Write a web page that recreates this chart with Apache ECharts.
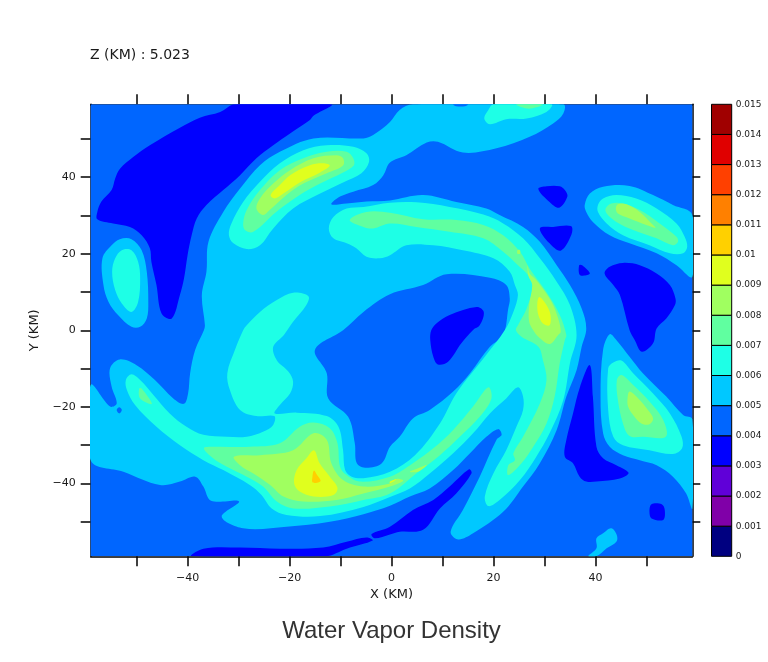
<!DOCTYPE html>
<html>
<head>
<meta charset="utf-8">
<style>html,body{margin:0;padding:0;background:#fff}#c{width:768px;height:662px}</style>
<script src="https://cdn.jsdelivr.net/npm/echarts@6/dist/echarts.min.js"></script>
</head>
<body>
<div id="c"></div>
<script>
// Colour levels: water vapour density bands, each 0.001 wide
const levels = [0,0.001,0.002,0.003,0.004,0.005,0.006,0.007,0.008,0.009,0.01,0.011,0.012,0.013,0.014,0.015];
const bandColors = ['#000080','#8000a8','#6000d8','#0000ff','#0066ff','#00c8ff','#1effe6','#60ffa0','#a0ff60','#e0ff1e','#ffd000','#ff8000','#ff4000','#e00000','#a00000'];
const xTicks = [-50,-40,-30,-20,-10,0,10,20,30,40,50];
const yTicks = [-50,-40,-30,-20,-10,0,10,20,30,40,50];
const xLabels = [-40,-20,0,20,40];
const yLabels = [-40,-20,0,20,40];

// Contour regions, in km (x, y)
const domain = [[-59,59],[59,59],[59,-59],[-59,-59]];

// band 0.005-0.006
const c5Main = [[4.2,59],[33.7,59],[33.7,56.6],[31.7,54],[27.1,50.5],[20.6,47.5],[14,46.4],[9.1,49.2],[6.9,49],[2.9,45.7],[-0.3,43.8],[-1.6,40.5],[-3.6,37.9],[-7.5,36.2],[-10.1,34.9],[-11.8,32.9],[-8.8,33.1],[-4.9,33.6],[-0.3,33.9],[6.2,35.3],[12.7,33.5],[18.6,31.8],[21.2,30.1],[25.8,27],[29.1,23.1],[32.4,17],[35,11.8],[37.3,5.7],[38.2,0.5],[37.3,-4.3],[36.3,-10.4],[34.3,-17.3],[32.4,-26],[29.1,-34.7],[25.8,-40.8],[21.9,-47.4],[16,-53],[13.1,-54.6],[11.6,-52.6],[14,-46.9],[17.3,-38.2],[20.6,-28.6],[21.6,-27.3],[20.9,-25.8],[18.6,-27.8],[15.4,-32.1],[12.1,-36.5],[7.5,-41.3],[3.6,-43.4],[-0.3,-45.8],[-5.5,-48],[-12.1,-50],[-20.6,-51.3],[-29.1,-51.7],[-33.3,-48.7],[-29.9,-44.7],[-35.4,-44.5],[-36.9,-40.8],[-38.5,-38.2],[-41.5,-39.5],[-45.4,-40.4],[-52.6,-36.9],[-59,-33.9],[-59,-14.3],[-55.2,-19.9],[-53.9,-19.1],[-54.9,-14.7],[-55.2,-9.9],[-53.3,-7.6],[-50,-9.1],[-46.4,-13],[-42.8,-17.8],[-40.7,-19.2],[-39.9,-16.5],[-39.5,-11.2],[-38.5,-5.1],[-36.8,0],[-36.6,1.3],[-37.2,9.2],[-36.3,15.3],[-35.9,23.1],[-33,30.9],[-29.7,37],[-25.8,43.1],[-21.9,46.6],[-15.3,50.1],[-5.5,50.1],[-3.6,51],[-0.3,54.4],[1.6,57.5]];
const c5Left = [[-56.7,18.8],[-54.9,22.2],[-53.3,23.8],[-51,23.8],[-49,20.9],[-48,15.3],[-47.7,7.4],[-48,3.1],[-49.3,0.9],[-51,0.9],[-53.6,3.9],[-55.5,7.4],[-56.5,11.8]];
const c5UpperRight = [[37.9,32.7],[38.9,35.7],[41.5,37.5],[46.7,37.7],[51.3,35.3],[55.2,32.7],[59,30.1],[59,14],[55.9,17],[52,20.1],[46.7,22.7],[42.8,24.8],[39.5,28.3],[38.2,30.9]];
const c5LowerRight = [[42.8,-1],[44.1,-2.5],[46.7,-6.9],[49.3,-11.2],[53.9,-17.3],[57.2,-22.1],[59,-23.2],[59,-46.5],[57.8,-42.6],[55.2,-38.2],[52,-35.2],[48.7,-33.9],[45.4,-32.6],[42.8,-30.4],[41.5,-26.9],[41,-17.3],[41.5,-5.1]];
const c5Bottom = [[38.6,-59],[40.2,-56.9],[40.2,-54.3],[41.5,-53],[43.1,-51.7],[44.2,-53.5],[44.1,-55.2],[42.2,-56.9],[40.2,-59]];

// band 0.004-0.005 openings inside the regions above
const c4Centre = [[-9.5,0],[-5.5,4.8],[-0.3,9.4],[6.2,11.8],[10.8,14.6],[19.3,13.7],[22.5,11.8],[23.2,8.3],[22.9,5.7],[21.9,-1.3],[19.3,-4.3],[15.4,-11.2],[12.1,-16],[7.5,-20.8],[4.2,-23],[1.6,-27.8],[-0.3,-30.4],[-1.9,-34.7],[-4.9,-35.9],[-6.8,-34.7],[-7.2,-29.5],[-8.5,-22.6],[-12.4,-17.8],[-12.7,-11.2],[-15,-5.1]];
const c4TopSpot = [[12.1,59],[15,59],[14.4,58.5],[12.7,58.5]];
const c4LeftSpot = [[-53.9,-20.8],[-53.4,-20.1],[-52.9,-20.8],[-53.4,-21.7]];

// band 0.003-0.004
const c3UpperLeft = [[-30.7,59],[-11.8,59],[-15.3,56],[-16,54.9],[-19.9,51.4],[-23.2,48.3],[-26.5,44.9],[-29.7,40.5],[-33,36.6],[-36.3,32.7],[-38.2,29.2],[-39.2,24.8],[-40,19.6],[-40.7,13.5],[-41.5,9.2],[-43.1,3.1],[-45.1,4.4],[-46.1,11.8],[-47.1,17.9],[-47.4,21.4],[-49,24.8],[-51.3,27],[-54.6,27.9],[-57.7,29],[-57.7,30.9],[-56.9,33.6],[-54.9,36.6],[-54.2,39.6],[-53.3,42.1],[-50.6,45.3],[-47.4,48.3],[-41.5,52.9],[-37.6,55.5],[-33.6,57]];
const c3Tri1 = [[28.8,36.9],[30.4,37.6],[33,37.6],[34,36.6],[34.5,34.9],[32.9,32],[31,33.5]];
const c3Tri2 = [[29.1,26.6],[31.7,27],[35.2,27.2],[35.3,25],[33.2,20.8],[31,22.7]];
const c3Tri3 = [[36.8,17],[37.4,17],[38.9,14.8],[37,14.4]];
const c3Right = [[41.8,14.8],[42.8,16.6],[45.4,17.6],[48.7,17],[52,14.8],[54.6,11.8],[55.7,8.3],[55.6,6.6],[53.9,3.1],[52,0.5],[51.3,-3.4],[49.1,-5.6],[47.7,-2.5],[46.7,0],[44.8,9.2],[43.5,11.8]];
const c3Centre = [[8.8,1.8],[11.4,4],[16.7,6.1],[18.1,4.8],[17.3,1.3],[16,0.1],[13.7,-3.4],[11.1,-8.2],[9.1,-8.9],[8.2,-6.9],[7.6,-2.5],[7.8,0]];
const c3LowerRight = [[38.9,-9.1],[39.5,-17.3],[40.2,-30.4],[41.5,-33.4],[44.1,-35.2],[46.5,-37.2],[44.8,-38.7],[40.2,-39.5],[38.2,-39.5],[36.9,-38.2],[35.6,-34.7],[34,-33],[34.3,-28.6],[35.6,-21.7],[37,-14.7]];
const c3Spot = [[51,-45.4],[53,-45.4],[53.6,-46.9],[53.3,-49.5],[51,-49.1],[50.6,-47.4]];
const c3BottomLeft = [[-39.2,-59],[-36.9,-57],[-29.7,-56.7],[-21.9,-57],[-13.4,-56.7],[-8.8,-55.2],[-4.9,-54.1],[-3.7,-54.9],[-8.8,-57],[-13,-59]];
const c3BottomRight = [[-3.9,-53.2],[-0.3,-51.3],[4.2,-46.9],[8.2,-44.3],[11.4,-40.8],[15.2,-36.3],[15.7,-37.3],[12.7,-42.6],[9.5,-46.5],[6.2,-52.1],[1.6,-52.6],[-0.3,-53.3],[-3.3,-54.3]];

// band 0.006-0.007
const c6Main = [[-19.3,9.8],[-16.3,8.9],[-16.7,6.6],[-19.3,2.2],[-21.1,-1.2],[-23.2,-4.3],[-22.5,-7.8],[-20.2,-10.8],[-19.3,-13.4],[-19.9,-16.5],[-21.9,-19.5],[-22.9,-21.7],[-18.6,-21.5],[-12.7,-22.4],[-10.4,-25.2],[-9.5,-31.3],[-9.1,-36.5],[-7.8,-38.2],[-5.5,-38.6],[-0.3,-36.9],[4.6,-32.6],[9.5,-24.3],[12.7,-16.5],[18.6,-6.4],[22.2,0],[23.9,4.8],[24.8,9.2],[24.2,11.8],[23.2,15.3],[20,18.8],[14,20.9],[8.2,22.2],[2.9,22.2],[-0.3,19.6],[-2.3,18.8],[-4.9,19.2],[-6.9,21.4],[-8.8,22.7],[-11.4,24],[-12.3,26.6],[-11.4,29.6],[-8.8,31.8],[-5.5,32.2],[-0.3,33.3],[4.9,33.4],[11.4,32.2],[18,30.2],[21.9,27.9],[25.8,24],[29.1,18.8],[32.4,12.7],[35,6.6],[36.3,-1.3],[35,-8.6],[33.7,-18.2],[31,-26.9],[28.4,-33],[25.2,-39.1],[21.2,-44.3],[19,-45.9],[18.3,-43.4],[20,-37.3],[22.5,-31.3],[24.5,-25.2],[25.8,-20.8],[25.8,-17.3],[24.8,-14.9],[22.5,-17.8],[19.3,-21.7],[16,-26.9],[12.1,-32.1],[7.5,-37.4],[3.6,-41.3],[-0.3,-43.5],[-5.5,-46.1],[-14,-48.5],[-20.6,-48.2],[-23.5,-46.5],[-25.5,-43],[-27.8,-40.4],[-33,-36.5],[-36.9,-33.9],[-41.5,-30],[-46.1,-25.2],[-50.3,-19.5],[-51.9,-15.6],[-52.1,-13],[-51,-11.5],[-49.3,-13],[-46.7,-16.9],[-43.5,-21.7],[-40.2,-25.2],[-36.9,-27.3],[-32.3,-27.8],[-28.4,-27.8],[-25.2,-26.5],[-23.2,-24.7],[-23,-22.4],[-26.5,-22.4],[-29.7,-20.8],[-31.7,-15.6],[-32.2,-11.2],[-30.7,-5.1],[-29.1,0],[-28.4,1.3],[-25.8,4.8],[-22.5,7.9]];
const c6Left = [[-54.8,15.3],[-54.2,18.8],[-52.9,20.9],[-51,20.9],[-49.7,17.9],[-49.3,13.5],[-49.7,7.4],[-51,4.8],[-52.9,7],[-54.2,10.5]];
const c6UpperLeft = [[-31.9,24.9],[-31.4,27.9],[-29.1,33.5],[-25.8,38.8],[-21.9,43.6],[-17.3,47],[-12.7,48.3],[-7.5,47.9],[-4.9,46.2],[-4.4,44],[-5.9,41],[-9.5,38.6],[-14,35.7],[-19.3,31.8],[-23.2,26.6],[-25.8,22.2],[-28.4,21.2],[-31,22.7]];
const c6Top = [[18.2,55.3],[19,57.5],[20,59],[31.4,59],[30.4,57],[26.5,55.3],[22.5,55.1],[19.3,53.8]];
const c6UpperRight = [[40.5,32.7],[41.5,34.4],[44.1,35.3],[48,34.4],[52,31.8],[55.9,27.9],[57.5,24.4],[58,21.8],[57.2,20.1],[54.6,20.1],[50.6,22.2],[45.4,24.8],[42.2,27.9],[40.5,30.9]];
const c6LowerRight = [[42.5,-9.9],[43.5,-8.4],[45.1,-7.9],[47.4,-11.2],[51.3,-16.5],[54.6,-21.7],[56.9,-27.8],[57,-30.8],[55.2,-32.3],[50.6,-31.3],[45.4,-30],[43.5,-27.8],[42.5,-20.8]];

// band 0.007-0.008
const c7UpperLeft = [[-29.1,27.9],[-28.4,31.4],[-25.8,36.6],[-21.9,41.8],[-17.3,44.9],[-12.7,46.6],[-8.8,46.6],[-7.5,44.9],[-7.4,43],[-9.5,41.2],[-14,38.3],[-18,35.3],[-22.5,31],[-27.1,25.7],[-28.7,26.1]];
const c7LeftSpot = [[-49.5,-15.2],[-49,-15.2],[-47,-19.2],[-49.3,-17.8]];
const c7Arc = [[-8.2,28.8],[-4.9,30.9],[-0.3,30.7],[6.2,29],[12.7,28.8],[18,27.5],[21.9,24.8],[25.2,20.5],[27.1,16.1],[30.4,10],[33,4],[34.3,-1.3],[34,-2.5],[33,-8.6],[32,-17.3],[30.4,-24.3],[27.8,-30.4],[25.5,-34.7],[22.9,-37.8],[22.9,-35.2],[24.2,-33.9],[23.9,-32.1],[25.8,-27.8],[29.1,-19.1],[30.4,-13],[29.7,-7.8],[28.8,-4.3],[25.5,-1.7],[24.4,0],[24.8,1.3],[26.5,5.7],[27.8,11.8],[26.8,14.4],[24.8,17],[21.9,20.5],[18,24],[11.4,25.7],[4.9,27],[-0.3,27.9],[-3.6,26.6],[-5.5,27]];
const c7Lower = [[-36.8,-30.8],[-35,-30.4],[-27.8,-30.4],[-21.9,-29.5],[-18,-25.2],[-15.3,-24.1],[-12.1,-25.6],[-10.6,-29.5],[-10.1,-35.6],[-8.8,-37.8],[-6.2,-39.5],[-0.3,-38.2],[4.2,-34.7],[8.2,-30.8],[12.1,-26],[16,-19.9],[19,-14.9],[19.6,-17.8],[17.3,-22.6],[13.4,-27.8],[9.5,-32.6],[4.9,-37.3],[-0.3,-42.6],[-5.5,-44.3],[-12.1,-46],[-19.3,-46.5],[-22.5,-44.7],[-25.2,-40.8],[-28.4,-38.2],[-32.3,-35.6],[-35,-33.4]];
const c7UpperRight = [[42,31.8],[43.1,33.1],[45.4,33.1],[48.7,31.4],[52.6,27.9],[55.9,24.4],[56.2,23.1],[55.2,22.2],[52,24],[47.4,26.2],[44.1,28.3],[42.2,30.5]];
const c7LowerRight = [[44.2,-13],[45.1,-11.7],[47.4,-14.3],[50.6,-18.6],[53.3,-23.4],[53.8,-27.8],[49.3,-27.8],[46.7,-27.6],[45.4,-24.3],[44.4,-18.2]];
const c7Top = [[24.5,59],[29.7,59],[28.4,58.2],[26.5,57.9]];

// band 0.008-0.009
const c8UpperLeft = [[-26.5,31.8],[-25.8,34.4],[-23.2,38.3],[-19.9,41.8],[-15.3,44.9],[-10.8,45.7],[-9.5,44.9],[-9.5,43],[-12.7,41],[-17.3,38.3],[-20.6,35.3],[-23.9,31.4],[-25.2,30.1]];
const c8Arc = [[26.7,17],[27.1,14.8],[28.2,13.4],[29.4,11.4],[31.4,7.4],[32.7,3.1],[33.2,-0.4],[32.7,-1.2],[31,-3.6],[28.8,-1.7],[27.8,0],[27,2.2],[27,6.6],[27.6,11.8],[26.8,14.4]];
const c8ArcSpot = [[24.7,20.9],[25.2,20.9],[25.2,20],[24.7,20]];
const c8Lower = [[-30.9,-33],[-25.8,-32.6],[-19.3,-31.3],[-15.3,-26.9],[-12.7,-28.6],[-11.8,-34.7],[-9.5,-39.1],[-5.5,-40.8],[-0.3,-40],[1,-38.8],[2.3,-39.3],[-0.3,-40.8],[-5.5,-42.6],[-10.8,-44.3],[-17.3,-44.7],[-21.2,-43.4],[-23.8,-40.4],[-27.1,-37.4],[-29.7,-35.2]];
const c8LowerSpot = [[3.6,-36.9],[5.2,-36.9],[6.9,-35.2],[5.2,-36]];
const c8UpperRight = [[44,31.8],[44.4,32.9],[46.1,32.9],[48.7,30.9],[51,27.9],[51.8,26.8],[50,27.5],[46.7,29.2],[44.4,30.5]];
const c8LowerRight = [[46.3,-17.8],[46.7,-16],[48.4,-17.8],[50.3,-20.8],[51.3,-23],[50.6,-24.5],[49,-24.3],[47.4,-22.1],[46.4,-19.9]];

// band 0.009-0.01
const c9UpperLeft = [[-23.7,35.3],[-21.9,37.9],[-19.9,40.5],[-16,43.1],[-13.4,43.6],[-12.1,43],[-14,41.2],[-18,38.6],[-21.2,35.7],[-22.9,34.4]];
const c9Arc = [[29,8.7],[30.4,6.6],[31.2,3.9],[31,1.3],[29.7,1.8],[28.8,4],[28.6,7]];
const c9Lower = [[-15.2,-31.3],[-14.1,-34.7],[-12.1,-38.2],[-10.6,-41.1],[-11.4,-43],[-15.3,-43.4],[-18,-42.1],[-19.1,-40],[-18.6,-36.5],[-16.7,-33.4]];
const c9LowerSpot = [[-0.3,-39.5],[1,-38.8],[-0.3,-40]];

// band 0.01-0.011
const c10Lower = [[-15.2,-36.6],[-14.6,-37.8],[-13.9,-39.3],[-14.6,-39.8],[-15.5,-39.7],[-15.5,-38.2]];

// Paint order: band index into bandColors and its region
const regions = [
  [4,domain],
  [5,c5Main],[5,c5Left],[5,c5UpperRight],[5,c5LowerRight],[5,c5Bottom],
  [4,c4Centre],[4,c4TopSpot],[4,c4LeftSpot],
  [3,c3UpperLeft],[3,c3Tri1],[3,c3Tri2],[3,c3Tri3],[3,c3Right],[3,c3Centre],[3,c3LowerRight],[3,c3Spot],[3,c3BottomLeft],[3,c3BottomRight],
  [6,c6Main],[6,c6Left],[6,c6UpperLeft],[6,c6Top],[6,c6UpperRight],[6,c6LowerRight],
  [7,c7UpperLeft],[7,c7LeftSpot],[7,c7Arc],[7,c7Lower],[7,c7UpperRight],[7,c7LowerRight],[7,c7Top],
  [8,c8UpperLeft],[8,c8Arc],[8,c8ArcSpot],[8,c8Lower],[8,c8LowerSpot],[8,c8UpperRight],[8,c8LowerRight],
  [9,c9UpperLeft],[9,c9Arc],[9,c9Lower],[9,c9LowerSpot],
  [10,c10Lower]
];

const FONT = '"DejaVu Sans"';
const TXT = '#1a1a1a';
const tickLabel = v => String(v).replace('-', '\u2212');
const axisLine = {show:true, onZero:false, lineStyle:{color:'#000', width:1.5}};
const tickStyle = {color:'#000', width:1.5};

const chart = echarts.init(document.getElementById('c'), null, {renderer:'canvas'});
chart.setOption({
  animation:false,
  backgroundColor:'#fff',
  title:[
    {text:'Water Vapor Density', left:391.5, textAlign:'center', top:619, padding:0,
     textStyle:{fontFamily:'"Liberation Sans"', fontSize:24, fontWeight:'normal', color:'#333'}},
    {text:'Z (KM) : 5.023', left:90, top:48, padding:0,
     textStyle:{fontFamily:FONT, fontSize:14, fontWeight:'normal', color:TXT}}
  ],
  grid:[
    {left:90.7, right:75.7, top:104.3, bottom:105.7, containLabel:false},
    {left:711.5, right:36.3, top:104.3, bottom:105.7, containLabel:false}
  ],
  xAxis:[
    {gridIndex:0, type:'value', position:'bottom', min:-59, max:59, name:'X (KM)', nameLocation:'middle', nameGap:32,
     nameTextStyle:{fontFamily:FONT, fontSize:13, color:TXT},
     axisLine:axisLine, splitLine:{show:false},
     axisTick:{show:true, length:10, inside:false, lineStyle:tickStyle, customValues:xTicks},
     axisLabel:{show:true, margin:16, fontFamily:FONT, fontSize:11, color:TXT, customValues:xLabels, formatter:tickLabel}},
    {gridIndex:0, type:'value', position:'top', min:-59, max:59,
     axisLine:axisLine, splitLine:{show:false},
     axisTick:{show:true, length:10, lineStyle:tickStyle, customValues:xTicks},
     axisLabel:{show:false}},
    {gridIndex:1, type:'value', min:0, max:1, show:false}
  ],
  yAxis:[
    {gridIndex:0, type:'value', position:'left', min:-59, max:59, name:'Y (KM)', nameLocation:'middle', nameGap:45, nameRotate:90,
     nameTextStyle:{fontFamily:FONT, fontSize:13, color:TXT},
     axisLine:axisLine, splitLine:{show:false},
     axisTick:{show:true, length:10, lineStyle:tickStyle, customValues:yTicks},
     axisLabel:{show:true, margin:15, fontFamily:FONT, fontSize:11, color:TXT, customValues:yLabels, formatter:tickLabel}},
    {gridIndex:0, type:'value', position:'right', min:-59, max:59,
     axisLine:axisLine, splitLine:{show:false},
     axisTick:{show:true, length:8, lineStyle:tickStyle, customValues:yTicks},
     axisLabel:{show:false}},
    {gridIndex:1, type:'value', position:'right', min:0, max:0.015, splitLine:{show:false},
     axisLine:{show:false}, axisTick:{show:false},
     axisLabel:{show:true, margin:4, fontFamily:FONT, fontSize:9, color:TXT, customValues:levels, formatter:v=>String(+v.toFixed(3))}}
  ],
  series:[
    {type:'custom', coordinateSystem:'cartesian2d', xAxisIndex:0, yAxisIndex:0, silent:true, clip:true,
     data:regions.map((r,i)=>[i]),
     encode:{x:[], y:[]},
     renderItem:(params, api)=>{
       const r = regions[api.value(0)];
       return {type:'polygon', shape:{points:r[1].map(p=>api.coord(p)), smooth:r[1]===domain?0:0.35},
               style:{fill:bandColors[r[0]], stroke:null}};
     }},
    {type:'custom', coordinateSystem:'cartesian2d', xAxisIndex:2, yAxisIndex:2, silent:true,
     data:bandColors.map((c,i)=>[0,levels[i],1,levels[i+1],i]),
     encode:{x:[0,2], y:[1,3]},
     renderItem:(params, api)=>{
       const a = api.coord([api.value(0), api.value(1)]);
       const b = api.coord([api.value(2), api.value(3)]);
       return {type:'rect', shape:{x:a[0], y:b[1], width:b[0]-a[0], height:a[1]-b[1]},
               style:{fill:bandColors[api.value(4)], stroke:'#000', lineWidth:1}};
     }}
  ]
});
</script>
</body>
</html>
